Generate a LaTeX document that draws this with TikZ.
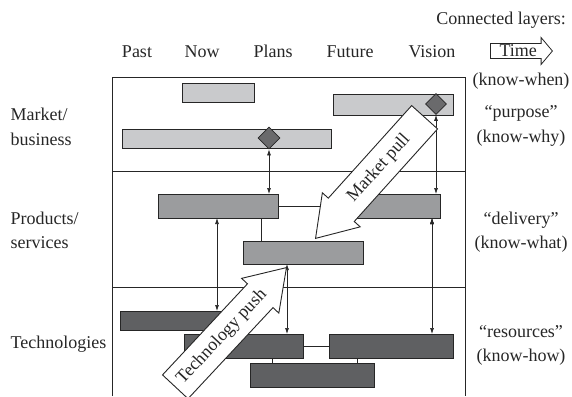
\documentclass[tikz,border=0pt]{standalone}
\usepackage{fontspec}
\setmainfont{Liberation Serif}
\usepackage{tikz}
\usetikzlibrary{positioning,arrows.meta,shapes.geometric,shapes.arrows}

\definecolor{mktgray}{HTML}{C9CACC}
\definecolor{prodgray}{HTML}{9B9C9E}
\definecolor{techgray}{HTML}{5F6062}
\definecolor{gemgray}{HTML}{6A6A6C}
\definecolor{inkgray}{HTML}{262626}

\tikzset{
    bar/.style={draw=inkgray, line width=0.8pt, anchor=north west, inner sep=0pt, outer sep=0pt},
    mbar/.style={bar, fill=mktgray},
    pbar/.style={bar, fill=prodgray},
    tbar/.style={bar, fill=techgray},
    gem/.style={diamond, draw=inkgray, fill=gemgray, line width=0.8pt, inner sep=0pt, minimum width=22pt, minimum height=22pt},
    link/.style={draw=inkgray, line width=0.8pt},
    tie/.style={link, line width=0.7pt, {Latex[length=6pt,width=4pt]}-{Latex[length=6pt,width=4pt]}},
    bigarrow/.style={single arrow, draw=inkgray, fill=white, line width=0.9pt,
        single arrow tip angle=67, single arrow head extend=8pt, minimum height=163pt,
        text height=13pt, text depth=4pt, inner ysep=8.5pt, inner xsep=4pt}
}

\begin{document}
\begin{tikzpicture}[x=1pt, y=-1pt, font=\fontsize{18}{24.5}\selectfont, inkgray]

    \useasboundingbox (0,0) rectangle (572,396);

    \node[anchor=base] (past) at (137,57) {Past};
    \node[anchor=base] (now) at (202,57) {Now};
    \node[anchor=base] (plans) at (273,57) {Plans};
    \node[anchor=base] (future) at (350,57) {Future};
    \node[anchor=base] (vision) at (432,57) {Vision};

    \node[anchor=base] (layers) at (501,25) {Connected layers:};
    \node[single arrow, draw=inkgray, line width=0.8pt, inner sep=1pt, single arrow tip angle=100,
        single arrow head extend=6pt, minimum height=62pt, anchor=west] (time) at (490,51) {Time};
    \node[anchor=base] (when) at (521,85) {(know-when)};
    \node[align=center] (why) at (521,126) {“purpose”\\(know-why)};
    \node[align=center] (what) at (521,232) {“delivery”\\(know-what)};
    \node[align=center] (how) at (521,345.5) {“resources”\\(know-how)};

    \node[align=left, anchor=west] (market) at (7,127) {Market/\\business};
    \node[align=left, anchor=west] (products) at (7,230.5) {Products/\\services};
    \node[anchor=base west] (techs) at (7,348) {Technologies};

    \draw[link] (112,396) |- (465,77) -- (465,396);
    \draw[link] (112,171) -- (465,171);
    \draw[link] (112,287) -- (465,287);

    \node[mbar, minimum width=72pt, minimum height=19pt] (mA) at (182,83) {};
    \node[mbar, minimum width=209pt, minimum height=19pt] (mB) at (122,129) {};
    \node[mbar, minimum width=120pt, minimum height=21pt] (mC) at (333,94) {};
    \node[gem] (gB) at (269,138) {};
    \node[gem, minimum width=21pt, minimum height=21pt] (gC) at (436,104) {};

    \node[pbar, minimum width=120pt, minimum height=24pt] (pD) at (158,194) {};
    \node[pbar, minimum width=120pt, minimum height=23pt] (pE) at (243,241) {};
    \node[pbar, minimum width=95pt, minimum height=24pt] (pF) at (345,194) {};

    \node[tbar, minimum width=125pt, minimum height=19pt] (tG) at (120,311) {};
    \node[tbar, minimum width=119pt, minimum height=24pt] (tH) at (184,334) {};
    \node[tbar, minimum width=124pt, minimum height=24pt] (tI) at (329,334) {};
    \node[tbar, minimum width=124pt, minimum height=24pt] (tJ) at (250,363) {};

    \coordinate (dG) at ([xshift=59pt]pD.south west);
    \coordinate (eH) at ([xshift=44pt]pE.south west);
    \coordinate (fI) at ([xshift=-8pt]pF.south east);
    \coordinate (eD) at ([xshift=18pt]pE.north west);
    \coordinate (jH) at ([xshift=22pt]tJ.north west);
    \coordinate (iJ) at ([xshift=28pt]tI.south west);

    \draw[link] (pD.east) -- (pD.east -| pF.west);
    \draw[link] (eD) -- (eD |- pD.south);
    \draw[link] (tH.east) -- (tI.west);
    \draw[link] (jH) -- (jH |- tH.south);
    \draw[link] (iJ) -- (iJ |- tJ.north);

    \path[tie]
        (gB.south) edge (gB |- pD.north)
        (gC.south) edge (gC |- pF.north)
        (dG) edge (dG |- tG.north)
        (eH) edge (eH |- tH.north)
        (fI) edge (fI |- tI.north);

    \node[bigarrow, rotate=48, shape border rotate=180, anchor=tip] (pull)
        at ([xshift=72pt, yshift=2pt]pE.north west) {Market pull};
    \node[bigarrow, rotate=47, anchor=tip] (push)
        at ([yshift=-3pt]eH) {Technology push};

\end{tikzpicture}
\end{document}
